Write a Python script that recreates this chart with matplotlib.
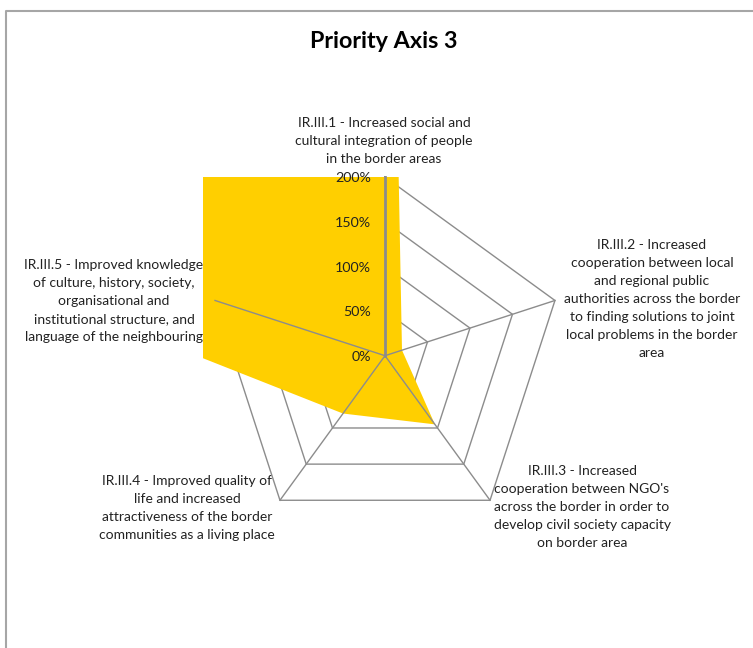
import numpy as np
import matplotlib.pyplot as plt
from matplotlib.lines import Line2D

# Werte je Ergebnisindikator (in %), Achsen im Uhrzeigersinn ab oben
kategorien = [
    "IR.III.1 - Increased social and\ncultural integration of people\nin the border areas",
    "IR.III.2 - Increased\ncooperation between local\nand regional public\nauthorities across the border\nto finding solutions to joint\nlocal problems in the border\narea",
    "IR.III.3 - Increased\ncooperation between NGO's\nacross the border in order to\ndevelop civil society capacity\non border area",
    "IR.III.4 - Improved quality of\nlife and increased\nattractiveness of the border\ncommunities as a living place",
    "IR.III.5 - Improved knowledge\nof culture, history, society,\norganisational and\ninstitutional structure, and\nlanguage of the neighbouring",
]
werte = [1000, 20, 95, 80, 1250]
ticks = [0, 50, 100, 150, 200]
tick_labels = ["0%", "50%", "100%", "150%", "200%"]

plt.rcParams['font.family'] = ['Lato', 'DejaVu Sans']

W, H = 753, 648
fig = plt.figure(figsize=(W / 100, H / 100), dpi=100)

# Plotbereich in Pixeln: Mittelpunkt und Skalierung
cx, cy = 385, 355.7
px_pro_prozent = 178.7 / 200
links, rechts, oben, unten = 203, 600, 177, 540
ax = fig.add_axes([links / W, 1 - unten / H, (rechts - links) / W, (unten - oben) / H])
ax.set_xlim(-(cx - links) / px_pro_prozent, (rechts - cx) / px_pro_prozent)
ax.set_ylim(-(unten - cy) / px_pro_prozent, (cy - oben) / px_pro_prozent)
ax.axis('off')
ax.set_zorder(1)
ax.patch.set_visible(False)

n = len(werte)
winkel = np.pi / 2 - np.arange(n) * 2 * np.pi / n
cos_w, sin_w = np.cos(winkel), np.sin(winkel)

grau = '#8c8c8c'

# Ringe (liegen unter der Fläche)
for t in ticks[1:]:
    xs = np.append(t * cos_w, t * cos_w[0])
    ys = np.append(t * sin_w, t * sin_w[0])
    ax.plot(xs, ys, color=grau, lw=1, zorder=1, clip_on=False)

# Fläche, wird am Plotbereich abgeschnitten
r = np.array(werte, dtype=float)
ax.fill(r * cos_w, r * sin_w, color='#FFCF00', lw=0, zorder=2)

# Speichen
for i in range(n):
    ax.plot([0, ticks[-1] * cos_w[i]], [0, ticks[-1] * sin_w[i]], color=grau,
            lw=2 if i == 0 else 1, zorder=3, clip_on=False)

# Achsenbeschriftung
for t, lab in zip(ticks, tick_labels):
    ax.text(-16, t - 1.5, lab, ha='right', va='center', fontsize=10.3, color='#222222',
            zorder=4, clip_on=False)

# Kategorienbeschriftung (Pixelpositionen der Textmitte)
lab_pos = [(384, 141), (652, 299), (582, 507), (187, 508), (114, 301)]
for (lx, ly), txt in zip(lab_pos, kategorien):
    fig.text(lx / W, 1 - ly / H, txt, ha='center', va='center', fontsize=10,
             color='#222222', linespacing=1.6, zorder=0)

fig.text(384 / W, 1 - 42 / H, "Priority Axis 3", ha='center', va='center',
         fontsize=16.8, fontweight='bold', color='black')

# Rahmen des Diagramms
fig.add_artist(Line2D([6 / W, 6 / W, 1], [0, 1 - 11 / H, 1 - 11 / H],
                      transform=fig.transFigure, color='#a6a6a6', lw=1.5))

fig.savefig('out.png', dpi=100)
